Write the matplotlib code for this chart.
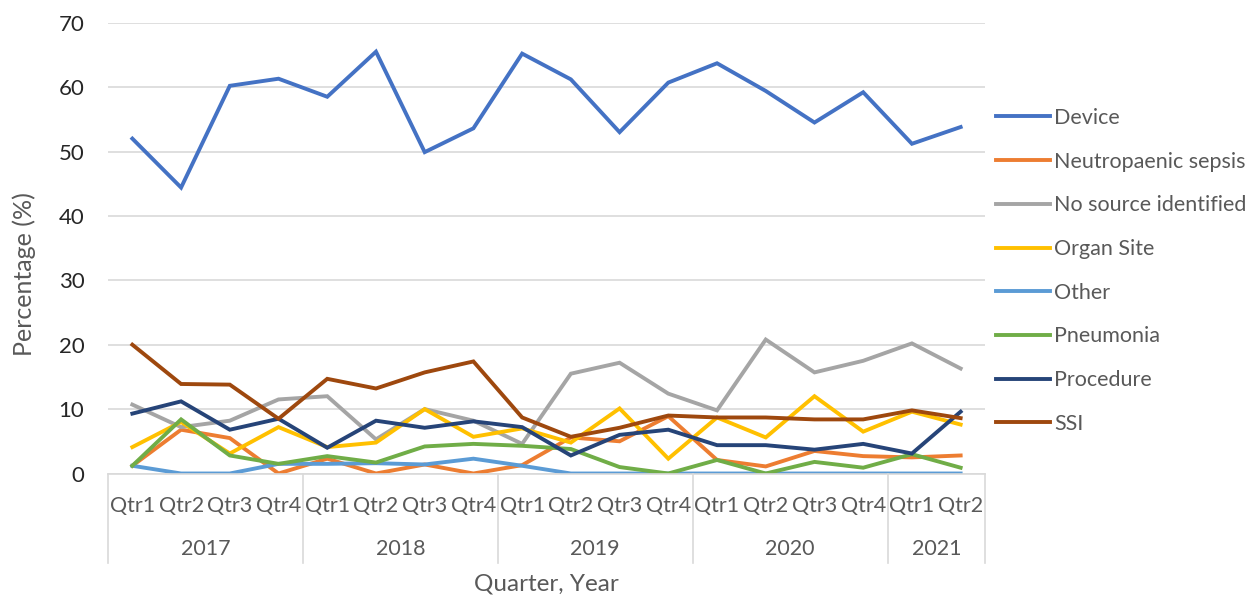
import matplotlib
matplotlib.use("Agg")
import matplotlib.pyplot as plt
import matplotlib.transforms as mtransforms

plt.rcParams['font.family'] = ['Lato', 'DejaVu Sans']

# ── data ────────────────────────────────────────────────────────────────
quarters = ["Qtr1", "Qtr2", "Qtr3", "Qtr4"] * 4 + ["Qtr1", "Qtr2"]
years = ["2017", "2018", "2019", "2020", "2021"]
year_sizes = [4, 4, 4, 4, 2]

device = [52.0, 44.4, 60.2, 61.3, 58.5, 65.5, 49.9, 53.6, 65.2,
          61.2, 53.0, 60.7, 63.7, 59.4, 54.5, 59.2, 51.2, 53.8]
neutropaenic = [1.2, 6.8, 5.5, 0.0, 2.3, 0.0, 1.4, 0.0, 1.3,
                5.6, 5.0, 8.9, 2.1, 1.1, 3.5, 2.7, 2.5, 2.8]
no_source = [10.7, 7.2, 8.2, 11.5, 12.0, 5.3, 10.0, 8.2, 4.6,
             15.5, 17.2, 12.4, 9.8, 20.8, 15.7, 17.5, 20.2, 16.3]
organ_site = [4.1, 8.0, 3.1, 7.2, 4.1, 4.8, 10.0, 5.7, 7.0,
              4.8, 10.1, 2.3, 8.7, 5.6, 12.0, 6.5, 9.6, 7.6]
other = [1.2, 0.0, 0.0, 1.5, 1.5, 1.6, 1.4, 2.3, 1.2,
         0.0, 0.0, 0.0, 0.0, 0.0, 0.0, 0.0, 0.0, 0.0]
pneumonia = [1.2, 8.4, 2.8, 1.5, 2.7, 1.7, 4.2, 4.6, 4.3,
             3.8, 1.0, 0.0, 2.1, 0.0, 1.8, 0.9, 3.0, 0.9]
procedure = [9.3, 11.2, 6.8, 8.5, 4.0, 8.2, 7.1, 8.1, 7.2,
             2.8, 6.0, 6.8, 4.4, 4.4, 3.7, 4.6, 3.1, 9.6]
ssi = [20.0, 13.9, 13.8, 8.5, 14.7, 13.2, 15.7, 17.4, 8.7,
       5.7, 7.1, 9.0, 8.7, 8.7, 8.4, 8.4, 9.8, 8.6]

series_names = ["Device", "Neutropaenic sepsis", "No source identified",
                "Organ Site", "Other", "Pneumonia", "Procedure", "SSI"]
series_values = [device, neutropaenic, no_source, organ_site,
                 other, pneumonia, procedure, ssi]
colors = ["#4472C4", "#ED7D31", "#A5A5A5", "#FFC000",
          "#5B9BD5", "#70AD47", "#264478", "#9E480E"]

# ── figure ──────────────────────────────────────────────────────────────
W, H = 1251, 599
fig = plt.figure(figsize=(W / 100, H / 100), dpi=100)
ax = fig.add_axes([108 / W, 1 - 473.5 / H, (985 - 108) / W, (473.5 - 22.7) / H])

x = list(range(len(quarters)))
for name, vals, c in zip(series_names, series_values, colors):
    ax.plot(x, vals, color=c, lw=2.8, label=name, solid_joinstyle='miter')

ax.set_xlim(-0.5, len(quarters) - 0.5)
ax.set_ylim(0, 70)
ax.set_yticks(range(0, 71, 10))
ax.yaxis.grid(True, color="#D9D9D9", lw=1.2)
ax.set_axisbelow(True)
for s in ["left", "right", "top"]:
    ax.spines[s].set_visible(False)
ax.spines["bottom"].set_color("#D9D9D9")
ax.spines["bottom"].set_linewidth(1.2)
ax.tick_params(axis="y", length=0, pad=17, labelsize=16, labelcolor="#262626")
ax.set_xticks(x)
ax.set_xticklabels(quarters)
ax.tick_params(axis="x", length=0, pad=16, labelsize=15.5, labelcolor="#595959")

# multi-level category axis: year row + separators
trans = mtransforms.blended_transform_factory(ax.transData, ax.transAxes)
axh = 473.5 - 22.7
sep_bottom = -(563 - 473.5) / axh
year_y = -(549 - 473.5) / axh
edge = -0.5
for yr, n in zip(years, year_sizes):
    ax.plot([edge, edge], [0, sep_bottom], transform=trans, color="#D9D9D9",
            lw=1.2, clip_on=False)
    ax.text(edge + n / 2, year_y, yr, transform=trans, ha="center", va="center",
            fontsize=15.5, color="#595959")
    edge += n
ax.plot([edge, edge], [0, sep_bottom], transform=trans, color="#D9D9D9",
        lw=1.2, clip_on=False)

fig.text(24 / W, 1 - 274 / H, "Percentage (%)", rotation=90, ha="center",
         va="center", fontsize=18, color="#595959")
fig.text(546 / W, 1 - 584 / H, "Quarter, Year", ha="center", va="center",
         fontsize=17.5, color="#595959")

ax.legend(loc="upper left", bbox_to_anchor=(996 / W, 1 - 108 / H),
          bbox_transform=fig.transFigure, frameon=False, fontsize=15.5,
          handlelength=2.5, handletextpad=0.2, labelspacing=1.1,
          borderpad=0, borderaxespad=0, labelcolor="#595959")

fig.savefig("out.png", dpi=100)
